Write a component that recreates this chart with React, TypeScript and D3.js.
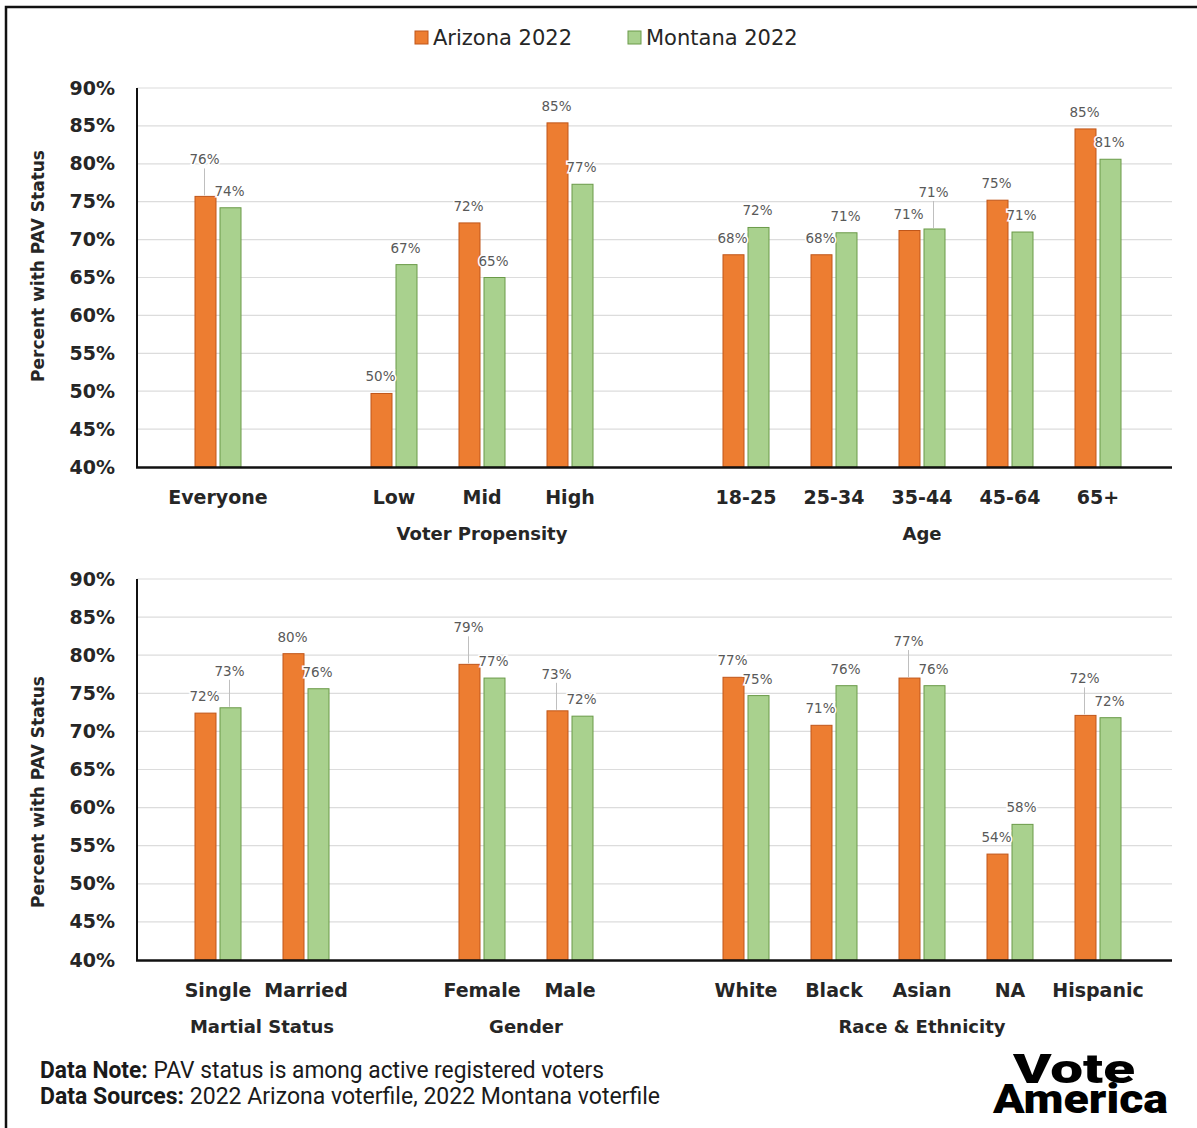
import React, { useEffect, useRef } from 'react';
import * as d3 from 'd3';

// slots include two empty spacer slots (null) that separate the groups
const topCategories = ['Everyone', null, 'Low', 'Mid', 'High', null, '18-25', '25-34', '35-44', '45-64', '65+'];
const topArizona = [75.7, null, 49.7, 72.2, 85.4, null, 68.0, 68.0, 71.2, 75.2, 84.6];
const topMontana = [74.2, null, 66.7, 65.0, 77.3, null, 71.6, 70.9, 71.4, 71.0, 80.6];
const topGroups = [
  { name: 'Voter Propensity', members: ['Low', 'Mid', 'High'] },
  { name: 'Age', members: ['18-25', '25-34', '35-44', '45-64', '65+'] },
];

const bottomCategories = ['Single', 'Married', null, 'Female', 'Male', null, 'White', 'Black', 'Asian', 'NA', 'Hispanic'];
const bottomArizona = [72.4, 80.2, null, 78.8, 72.7, null, 77.1, 70.8, 77.0, 53.9, 72.1];
const bottomMontana = [73.1, 75.6, null, 77.0, 72.0, null, 74.7, 76.0, 76.0, 57.8, 71.8];
const bottomGroups = [
  { name: 'Martial Status', members: ['Single', 'Married'] },
  { name: 'Gender', members: ['Female', 'Male'] },
  { name: 'Race & Ethnicity', members: ['White', 'Black', 'Asian', 'NA', 'Hispanic'] },
];

const seriesNames = ['Arizona 2022', 'Montana 2022'];
const yTicks = [40, 45, 50, 55, 60, 65, 70, 75, 80, 85, 90];

const FILL = ['#ed7d31', '#a9d18e'];
const EDGE = ['#c0561a', '#6a9a48'];
const FONT = '"DejaVu Sans", Arial, sans-serif';
const NOTE_FONT = 'Roboto, "Noto Sans", Arial, sans-serif';
const INK = '#262626';
const LABEL = '#595959';

interface Panel {
  categories: (string | null)[];
  az: (number | null)[];
  mt: (number | null)[];
  groups: { name: string; members: string[] }[];
  yTop: number;
  yBottom: number;
  titleY: number;
}

function drawPanel(svg: d3.Selection<SVGSVGElement, unknown, null, undefined>, p: Panel) {
  const left = 137, right = 1172;
  const x = d3.scaleBand<number>()
    .domain(d3.range(p.categories.length))
    .range([left + 37, right - 30])
    .paddingInner(0)
    .paddingOuter(0);
  const sub = d3.scaleBand<number>().domain([0, 1]).range([-23, 23]).paddingInner(0.16);
  const y = d3.scaleLinear().domain([40, 90]).range([p.yBottom, p.yTop]);

  const g = svg.append('g');

  // gridlines
  g.append('g')
    .selectAll('line')
    .data(yTicks.slice(1))
    .enter()
    .append('line')
    .attr('x1', left)
    .attr('x2', right)
    .attr('y1', d => y(d))
    .attr('y2', d => y(d))
    .attr('stroke', '#dcdcdc')
    .attr('stroke-width', 1.2);

  // y ticks
  g.append('g')
    .attr('transform', `translate(${left},0)`)
    .call(d3.axisLeft(y).tickValues(yTicks).tickSize(0).tickPadding(22).tickFormat(v => `${v}%`))
    .call(s => s.select('.domain').remove())
    .call(s => s.selectAll('text')
      .attr('fill', INK)
      .attr('font-size', 19)
      .attr('font-weight', 700)
      .attr('font-family', FONT));

  // bars
  const values = [p.az, p.mt];
  const cx = (i: number) => (x(i) as number) + x.bandwidth() / 2;
  values.forEach((vals, s) => {
    g.append('g')
      .selectAll('rect')
      .data(vals.map((v, i) => ({ v, i })).filter(d => d.v != null))
      .enter()
      .append('rect')
      .attr('x', d => cx(d.i) + (sub(s) as number))
      .attr('y', d => y(d.v as number))
      .attr('width', sub.bandwidth())
      .attr('height', d => p.yBottom - y(d.v as number))
      .attr('fill', FILL[s])
      .attr('stroke', EDGE[s])
      .attr('stroke-width', 1);
  });

  // axes lines
  g.append('line')
    .attr('x1', left).attr('x2', left)
    .attr('y1', p.yTop).attr('y2', p.yBottom)
    .attr('stroke', '#111').attr('stroke-width', 2);
  g.append('line')
    .attr('x1', left - 1).attr('x2', right)
    .attr('y1', p.yBottom + 0.5).attr('y2', p.yBottom + 0.5)
    .attr('stroke', '#111').attr('stroke-width', 2.5);

  // data labels, raised with a leader line when a pair would collide
  const labels = g.append('g');
  p.categories.forEach((c, i) => {
    const a = p.az[i], m = p.mt[i];
    if (a == null || m == null) return;
    const pair = [a, m];
    const ly = pair.map(v => y(v) - 12);
    const raised = [false, false];
    if (Math.abs(ly[0] - ly[1]) < 16) {
      const hi = a >= m ? 0 : 1;
      ly[hi] -= 20;
      raised[hi] = true;
    }
    pair.forEach((v, s) => {
      const bx = cx(i) + (sub(s) as number) + sub.bandwidth() / 2 - 1;
      if (raised[s]) {
        labels.append('line')
          .attr('x1', bx).attr('x2', bx)
          .attr('y1', ly[s] + 4).attr('y2', y(v) - 1)
          .attr('stroke', '#bfbfbf').attr('stroke-width', 1);
      }
      labels.append('text')
        .attr('x', bx)
        .attr('y', ly[s])
        .attr('text-anchor', 'middle')
        .attr('font-size', 13.5)
        .attr('font-family', FONT)
        .attr('fill', LABEL)
        .attr('stroke', '#fff')
        .attr('stroke-width', 3)
        .attr('paint-order', 'stroke')
        .text(`${Math.round(v)}%`);
    });
  });

  // category labels
  g.append('g')
    .selectAll('text')
    .data(p.categories.map((c, i) => ({ c, i })).filter(d => d.c != null))
    .enter()
    .append('text')
    .attr('x', d => cx(d.i))
    .attr('y', p.yBottom + 37)
    .attr('text-anchor', 'middle')
    .attr('font-size', 19)
    .attr('font-weight', 700)
    .attr('font-family', FONT)
    .attr('fill', INK)
    .text(d => d.c as string);

  // group titles
  g.append('g')
    .selectAll('text')
    .data(p.groups)
    .enter()
    .append('text')
    .attr('x', d => d3.mean(d.members, m => cx(p.categories.indexOf(m))) as number)
    .attr('y', p.yBottom + 73)
    .attr('text-anchor', 'middle')
    .attr('font-size', 18)
    .attr('font-weight', 700)
    .attr('font-family', FONT)
    .attr('fill', INK)
    .text(d => d.name);

  // y axis title
  g.append('text')
    .attr('transform', `translate(44,${p.titleY}) rotate(-90)`)
    .attr('text-anchor', 'middle')
    .attr('font-size', 17)
    .attr('font-weight', 700)
    .attr('font-family', FONT)
    .attr('fill', INK)
    .text('Percent with PAV Status');
}

export default function App() {
  const svgRef = useRef<SVGSVGElement | null>(null);

  useEffect(() => {
    if (!svgRef.current) return;
    const svg = d3.select(svgRef.current);
    svg.selectAll('*').remove();

    svg.append('rect').attr('width', 1197).attr('height', 1128).attr('fill', '#fff');
    // frame (cropped at right and bottom)
    svg.append('path')
      .attr('d', 'M6,1128 V7 H1197')
      .attr('fill', 'none')
      .attr('stroke', '#111')
      .attr('stroke-width', 2.5);

    // legend
    const legendX = [415, 628];
    const legend = svg.append('g');
    seriesNames.forEach((name, s) => {
      legend.append('rect')
        .attr('x', legendX[s]).attr('y', 31)
        .attr('width', 13).attr('height', 13)
        .attr('fill', FILL[s]).attr('stroke', EDGE[s]).attr('stroke-width', 1);
      legend.append('text')
        .attr('x', legendX[s] + 18).attr('y', 45)
        .attr('font-size', 21)
        .attr('font-family', FONT)
        .attr('fill', INK)
        .text(name);
    });

    drawPanel(svg, {
      categories: topCategories, az: topArizona, mt: topMontana, groups: topGroups,
      yTop: 88, yBottom: 467, titleY: 266,
    });
    drawPanel(svg, {
      categories: bottomCategories, az: bottomArizona, mt: bottomMontana, groups: bottomGroups,
      yTop: 579, yBottom: 960, titleY: 792,
    });

    // footer notes
    const notes = [
      ['Data Note:', ' PAV status is among active registered voters', 564],
      ['Data Sources:', ' 2022 Arizona voterfile, 2022 Montana voterfile', 620],
    ];
    notes.forEach(([b, r, w], k) => {
      const t = svg.append('text')
        .attr('x', 40).attr('y', 1078 + k * 26)
        .attr('font-size', 23)
        .attr('font-family', NOTE_FONT)
        .attr('textLength', w as number)
        .attr('lengthAdjust', 'spacingAndGlyphs')
        .attr('fill', '#1a1a1a');
      t.append('tspan').attr('font-weight', 700).text(b as string);
      t.append('tspan').text(r as string);
    });

    // logo
    const logo = svg.append('g')
      .attr('font-family', NOTE_FONT)
      .attr('font-weight', 900)
      .attr('fill', '#000');
    logo.append('text')
      .attr('x', 1013).attr('y', 1083)
      .attr('font-size', 40)
      .attr('textLength', 122).attr('lengthAdjust', 'spacingAndGlyphs')
      .text('Vote');
    logo.append('text')
      .attr('x', 993).attr('y', 1113)
      .attr('font-size', 40)
      .attr('textLength', 175).attr('lengthAdjust', 'spacingAndGlyphs')
      .text('America');
  }, []);

  return (
    <div style={{ position: 'absolute', left: 0, top: 0 }}>
      <svg ref={svgRef} width={1197} height={1128} style={{ display: 'block' }} />
    </div>
  );
}
